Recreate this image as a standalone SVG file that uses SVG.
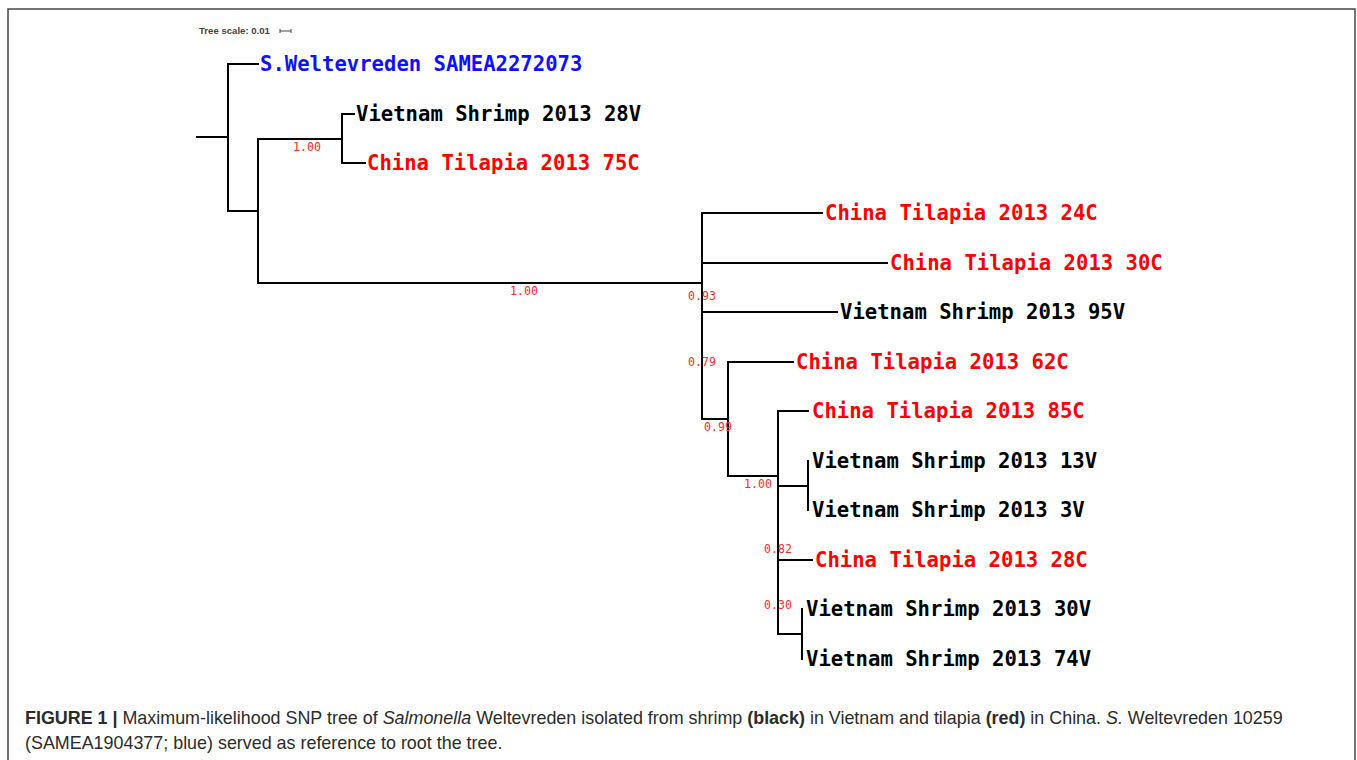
<svg xmlns="http://www.w3.org/2000/svg" width="1357" height="760" viewBox="0 0 1357 760">
<style>
.br{fill:none;stroke:#000;stroke-width:2;stroke-linecap:square}
.lb{font-family:"DejaVu Sans Mono","Liberation Mono",monospace;font-weight:bold;font-size:20.6px}
.k{fill:#000}.r{fill:#ff0000}.b{fill:#1010ff}
.sp{font-family:"DejaVu Sans Mono","Liberation Mono",monospace;font-size:11.6px;fill:#ff2a2a}
.cap{font-family:"Liberation Sans",Arial,sans-serif;font-size:17.9px;fill:#2b2b2b}
</style>
<rect x="8" y="9" width="1347" height="800" fill="#fff" stroke="#444" stroke-width="1.5"/>
<g id="scale">
<text x="199" y="34" font-family="'Liberation Sans',Arial,sans-serif" font-weight="bold" font-size="9.6px" fill="#444">Tree scale: 0.01</text>
<path d="M280 31H291M280 29V33M291 29V33" stroke="#444" stroke-width="1" fill="none"/>
</g>
<g id="connectors" class="br">
<path d="M197 137H228M228 64V211M228 64H258M228 211H258"/>
<path d="M258 139V283M258 139H342M342 114V163M342 114H354M342 163H365"/>
<path d="M258 283H702M702 213V419M702 213H822M702 263H887M702 312H837M702 419H728"/>
<path d="M728 362V476M728 362H793M728 476H778"/>
<path d="M778 411V634M778 411H808M778 486H808M808 461V510M778 560H812M778 634H802M802 609V659"/>
</g>
<g id="supports">
<text class="sp" x="293" y="151">1.00</text>
<text class="sp" x="510" y="295">1.00</text>
<text class="sp" x="688" y="300">0.93</text>
<text class="sp" x="688" y="366">0.79</text>
<text class="sp" x="704" y="431">0.99</text>
<text class="sp" x="744" y="488">1.00</text>
<text class="sp" x="764" y="553">0.82</text>
<text class="sp" x="764" y="609">0.30</text>
</g>
<g id="n-ref"><text class="lb b" x="260" y="71">S.Weltevreden SAMEA2272073</text></g>
<g id="n-28V"><text class="lb k" x="356" y="121">Vietnam Shrimp 2013 28V</text></g>
<g id="n-75C"><text class="lb r" x="367" y="170">China Tilapia 2013 75C</text></g>
<g id="n-24C"><text class="lb r" x="825" y="220">China Tilapia 2013 24C</text></g>
<g id="n-30C"><text class="lb r" x="890" y="270">China Tilapia 2013 30C</text></g>
<g id="n-95V"><text class="lb k" x="840" y="319">Vietnam Shrimp 2013 95V</text></g>
<g id="n-62C"><text class="lb r" x="796" y="369">China Tilapia 2013 62C</text></g>
<g id="n-85C"><text class="lb r" x="812" y="418">China Tilapia 2013 85C</text></g>
<g id="n-13V"><text class="lb k" x="812" y="468">Vietnam Shrimp 2013 13V</text></g>
<g id="n-3V"><text class="lb k" x="812" y="517">Vietnam Shrimp 2013 3V</text></g>
<g id="n-28C"><text class="lb r" x="815" y="567">China Tilapia 2013 28C</text></g>
<g id="n-30V"><text class="lb k" x="806" y="616">Vietnam Shrimp 2013 30V</text></g>
<g id="n-74V"><text class="lb k" x="806" y="666">Vietnam Shrimp 2013 74V</text></g>
<g id="caption">
<text class="cap" x="25" y="724"><tspan font-weight="bold">FIGURE 1 |</tspan> Maximum-likelihood SNP tree of <tspan font-style="italic">Salmonella</tspan> Weltevreden isolated from shrimp <tspan font-weight="bold">(black)</tspan> in Vietnam and tilapia <tspan font-weight="bold">(red)</tspan> in China. <tspan font-style="italic">S.</tspan> Weltevreden 10259</text>
<text class="cap" x="25" y="749">(SAMEA1904377; blue) served as reference to root the tree.</text>
</g>
</svg>
